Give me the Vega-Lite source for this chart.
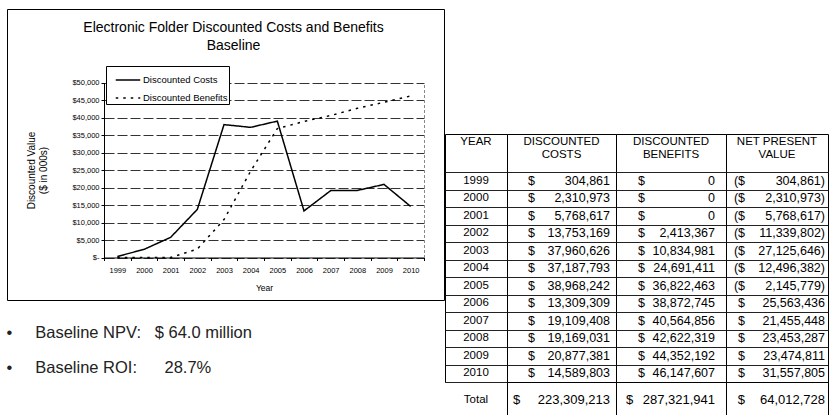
{
  "$schema": "https://vega.github.io/schema/vega-lite/v6.json",
  "padding": {"left": 6, "top": 8, "right": 0, "bottom": 0},
  "background": "white",
  "config": {
    "font": "Liberation Sans",
    "view": {"stroke": "black", "strokeWidth": 1},
    "text": {"font": "Liberation Sans", "color": "black"},
    "axis": {"labelColor": "black", "titleColor": "black", "domainColor": "black", "tickColor": "black", "labelFont": "Liberation Sans", "titleFont": "Liberation Sans", "titleFontWeight": "normal"},
    "title": {"font": "Liberation Sans", "fontWeight": "normal", "color": "black"}
  },
  "datasets": {
    "years": [
      {"year": "1999", "costs": 304861, "benefits": 0, "npv": -304861},
      {"year": "2000", "costs": 2310973, "benefits": 0, "npv": -2310973},
      {"year": "2001", "costs": 5768617, "benefits": 0, "npv": -5768617},
      {"year": "2002", "costs": 13753169, "benefits": 2413367, "npv": -11339802},
      {"year": "2003", "costs": 37960626, "benefits": 10834981, "npv": -27125646},
      {"year": "2004", "costs": 37187793, "benefits": 24691411, "npv": -12496382},
      {"year": "2005", "costs": 38968242, "benefits": 36822463, "npv": -2145779},
      {"year": "2006", "costs": 13309309, "benefits": 38872745, "npv": 25563436},
      {"year": "2007", "costs": 19109408, "benefits": 40564856, "npv": 21455448},
      {"year": "2008", "costs": 19169031, "benefits": 42622319, "npv": 23453287},
      {"year": "2009", "costs": 20877381, "benefits": 44352192, "npv": 23474811},
      {"year": "2010", "costs": 14589803, "benefits": 46147607, "npv": 31557805}
    ],
    "totals": [{"year": "Total", "costs": 223309213, "benefits": 287321941, "npv": 64012728}],
    "headers": [
      {"col": "year", "label": "YEAR\n "},
      {"col": "costs", "label": "DISCOUNTED\nCOSTS"},
      {"col": "benefits", "label": "DISCOUNTED\nBENEFITS"},
      {"col": "npv", "label": "NET PRESENT\nVALUE"}
    ]
  },
  "spacing": -2,
  "hconcat": [
    {
      "title": {
        "text": ["•\u00a0\u00a0\u00a0\u00a0\u00a0Baseline NPV:\u00a0\u00a0\u00a0$ 64.0 million", "•\u00a0\u00a0\u00a0\u00a0\u00a0Baseline ROI:\u00a0\u00a0\u00a0\u00a0\u00a0\u00a028.7%"],
        "orient": "bottom", "anchor": "start", "fontSize": 16.5, "lineHeight": 35, "offset": 24, "color": "#222"
      },
      "vconcat": [
        {
          "width": 437,
          "height": 291,
          "data": {"name": "years"},
          "transform": [{"fold": ["costs", "benefits"], "as": ["series", "value"]}],
          "title": {
            "text": ["Electronic Folder Discounted Costs and Benefits", "Baseline"],
            "fontSize": 14, "lineHeight": 18, "offset": -44, "dx": 8, "anchor": "middle"
          },
          "encoding": {
            "x": {
              "field": "year", "type": "ordinal", "bandPosition": 0.5,
              "scale": {"type": "band", "range": [97, 417], "paddingInner": 0, "paddingOuter": 0},
              "axis": {
                "orient": "bottom", "offset": -42.5, "title": "Year", "titleFontSize": 8.5, "titlePadding": 9,
                "labelFontSize": 7.5, "labelAngle": 0, "labelPadding": 6, "tickBand": "extent", "tickSize": 3,
                "grid": false, "labelOverlap": false
              }
            }
          },
          "layer": [
            {
              "transform": [{"filter": "datum.series == 'costs'"}],
              "mark": {"type": "line", "color": "black", "strokeWidth": 1.5},
              "encoding": {
                "y": {
                  "field": "value", "type": "quantitative",
                  "scale": {"domain": [0, 50000000], "range": [248.5, 73.5], "nice": false},
                  "axis": {
                    "orient": "left", "offset": -97,
                    "values": [0, 5000000, 10000000, 15000000, 20000000, 25000000, 30000000, 35000000, 40000000, 45000000, 50000000],
                    "labelExpr": "datum.value == 0 ? '$-' : '$' + format(datum.value / 1000, ',')",
                    "labelFontSize": 7.5, "labelPadding": 2, "tickSize": 3,
                    "grid": true, "gridColor": "#333", "gridDash": [10, 3], "gridWidth": 1,
                    "title": ["Discounted Value", "($ in 000s)"], "titleFontSize": 10, "titlePadding": 23
                  }
                },
                "strokeDash": {
                  "field": "series", "type": "nominal",
                  "scale": {"domain": ["costs", "benefits"], "range": [[1, 0], [2.5, 5]]},
                  "legend": {
                    "orient": "none", "legendX": 99, "legendY": 57, "title": null,
                    "strokeColor": "black", "fillColor": "white", "padding": 1, "symbolOffset": 8,
                    "symbolType": "stroke", "symbolSize": 600,
                    "symbolStrokeColor": "black", "symbolStrokeWidth": 1.5, "labelFontSize": 9.5, "rowPadding": 0, "labelOffset": 2,
                    "labelExpr": "datum.label == 'costs' ? 'Discounted Costs' : 'Discounted Benefits'"
                  }
                }
              }
            },
            {
              "transform": [{"filter": "datum.series == 'benefits'"}],
              "mark": {"type": "line", "color": "black", "strokeWidth": 1.5},
              "encoding": {
                "y": {
                  "field": "value", "type": "quantitative",
                  "scale": {"domain": [0, 50000000], "range": [248.5, 73.5], "nice": false},
                  "axis": {"orient": "right", "offset": -20, "labels": false, "ticks": false, "grid": false, "title": null, "domainColor": "#888", "domainDash": [3, 2]}
                },
                "strokeDash": {"field": "series", "type": "nominal"}
              }
            }
          ],
          "resolve": {"axis": {"y": "independent"}}
        }
      ]
    },
    {
      "spacing": 0,
      "vconcat": [
        {"width": 383, "height": 124, "data": {"values": [{"blank": ""}]}, "view": {"stroke": null},
         "mark": {"type": "text"}, "encoding": {"text": {"field": "blank"}}},
        {
          "columns": 4,
          "spacing": 0,
          "bounds": "flush",
          "concat": [
            {"width": 62, "height": 38, "view": {"stroke": "black", "strokeWidth": 1}, "data": {"name": "headers"}, "transform": [{"filter": "datum.col == 'year'"}],
             "mark": {"type": "text", "lineBreak": "\n", "fontSize": 11.5, "lineHeight": 13, "baseline": "middle", "dy": -11}, "encoding": {"text": {"field": "label"}}},
            {"width": 109, "height": 38, "view": {"stroke": "black", "strokeWidth": 1}, "data": {"name": "headers"}, "transform": [{"filter": "datum.col == 'costs'"}],
             "mark": {"type": "text", "lineBreak": "\n", "fontSize": 11.5, "lineHeight": 13, "baseline": "middle", "dy": -11}, "encoding": {"text": {"field": "label"}}},
            {"width": 110, "height": 38, "view": {"stroke": "black", "strokeWidth": 1}, "data": {"name": "headers"}, "transform": [{"filter": "datum.col == 'benefits'"}],
             "mark": {"type": "text", "lineBreak": "\n", "fontSize": 11.5, "lineHeight": 13, "baseline": "middle", "dy": -11}, "encoding": {"text": {"field": "label"}}},
            {"width": 102, "height": 38, "view": {"stroke": "black", "strokeWidth": 1}, "data": {"name": "headers"}, "transform": [{"filter": "datum.col == 'npv'"}],
             "mark": {"type": "text", "lineBreak": "\n", "fontSize": 11.5, "lineHeight": 13, "baseline": "middle", "dy": -11}, "encoding": {"text": {"field": "label"}}},

            {"width": 62, "height": 210, "data": {"name": "years"},
             "mark": {"type": "text", "fontSize": 11.5},
             "encoding": {
               "y": {"field": "year", "type": "ordinal", "axis": {"labels": false, "ticks": false, "domain": false, "title": null, "grid": true, "tickBand": "extent", "gridColor": "#222"}},
               "text": {"field": "year"}
             }},
            {"width": 109, "height": 210, "data": {"name": "years"},
             "encoding": {"y": {"field": "year", "type": "ordinal", "axis": {"labels": false, "ticks": false, "domain": false, "title": null, "grid": true, "tickBand": "extent", "gridColor": "#222"}}},
             "layer": [
               {"mark": {"type": "text", "align": "left", "dx": 21, "fontSize": 12.5},
                "encoding": {"x": {"datum": "left", "scale": {"type": "point", "domain": ["left", "right"], "padding": 0}, "axis": null}, "text": {"value": "$"}}},
               {"mark": {"type": "text", "align": "right", "dx": -6, "fontSize": 12.5},
                "encoding": {"x": {"datum": "right", "scale": {"type": "point", "domain": ["left", "right"], "padding": 0}, "axis": null}, "text": {"field": "costs", "type": "quantitative", "format": ","}}}
             ]},
            {"width": 110, "height": 210, "data": {"name": "years"},
             "encoding": {"y": {"field": "year", "type": "ordinal", "axis": {"labels": false, "ticks": false, "domain": false, "title": null, "grid": true, "tickBand": "extent", "gridColor": "#222"}}},
             "layer": [
               {"mark": {"type": "text", "align": "left", "dx": 22, "fontSize": 12.5},
                "encoding": {"x": {"datum": "left", "scale": {"type": "point", "domain": ["left", "right"], "padding": 0}, "axis": null}, "text": {"value": "$"}}},
               {"mark": {"type": "text", "align": "right", "dx": -11, "fontSize": 12.5},
                "encoding": {"x": {"datum": "right", "scale": {"type": "point", "domain": ["left", "right"], "padding": 0}, "axis": null}, "text": {"field": "benefits", "type": "quantitative", "format": ","}}}
             ]},
            {"width": 102, "height": 210, "data": {"name": "years"},
             "transform": [{"calculate": "format(abs(datum.npv), ',') + (datum.npv < 0 ? ')' : '')", "as": "npvLabel"}],
             "encoding": {"y": {"field": "year", "type": "ordinal", "axis": {"labels": false, "ticks": false, "domain": false, "title": null, "grid": true, "tickBand": "extent", "gridColor": "#222"}}},
             "layer": [
               {"mark": {"type": "text", "align": "right", "dx": 19, "fontSize": 12.5},
                "encoding": {"x": {"datum": "left", "scale": {"type": "point", "domain": ["left", "right"], "padding": 0}, "axis": null}, "text": {"condition": {"test": "datum.npv < 0", "value": "($"}, "value": "$"}}},
               {"mark": {"type": "text", "align": "right", "dx": -3, "fontSize": 12.5},
                "encoding": {"x": {"datum": "right", "scale": {"type": "point", "domain": ["left", "right"], "padding": 0}, "axis": null}, "text": {"field": "npvLabel"}}}
             ]},

            {"width": 62, "height": 36, "data": {"name": "totals"},
             "mark": {"type": "text", "fontSize": 11.5}, "encoding": {"text": {"field": "year"}}},
            {"width": 109, "height": 36, "data": {"name": "totals"},
             "layer": [
               {"mark": {"type": "text", "align": "left", "dx": 6, "fontSize": 13},
                "encoding": {"x": {"datum": "left", "scale": {"type": "point", "domain": ["left", "right"], "padding": 0}, "axis": null}, "text": {"value": "$"}}},
               {"mark": {"type": "text", "align": "right", "dx": -6, "fontSize": 13},
                "encoding": {"x": {"datum": "right", "scale": {"type": "point", "domain": ["left", "right"], "padding": 0}, "axis": null}, "text": {"field": "costs", "type": "quantitative", "format": ","}}}
             ]},
            {"width": 110, "height": 36, "data": {"name": "totals"},
             "layer": [
               {"mark": {"type": "text", "align": "left", "dx": 10, "fontSize": 13},
                "encoding": {"x": {"datum": "left", "scale": {"type": "point", "domain": ["left", "right"], "padding": 0}, "axis": null}, "text": {"value": "$"}}},
               {"mark": {"type": "text", "align": "right", "dx": -11, "fontSize": 13},
                "encoding": {"x": {"datum": "right", "scale": {"type": "point", "domain": ["left", "right"], "padding": 0}, "axis": null}, "text": {"field": "benefits", "type": "quantitative", "format": ","}}}
             ]},
            {"width": 102, "height": 36, "data": {"name": "totals"},
             "layer": [
               {"mark": {"type": "text", "align": "right", "dx": 19, "fontSize": 13},
                "encoding": {"x": {"datum": "left", "scale": {"type": "point", "domain": ["left", "right"], "padding": 0}, "axis": null}, "text": {"value": "$"}}},
               {"mark": {"type": "text", "align": "right", "dx": -3, "fontSize": 13},
                "encoding": {"x": {"datum": "right", "scale": {"type": "point", "domain": ["left", "right"], "padding": 0}, "axis": null}, "text": {"field": "npv", "type": "quantitative", "format": ","}}}
             ]}
          ]
        }
      ]
    }
  ]
}
